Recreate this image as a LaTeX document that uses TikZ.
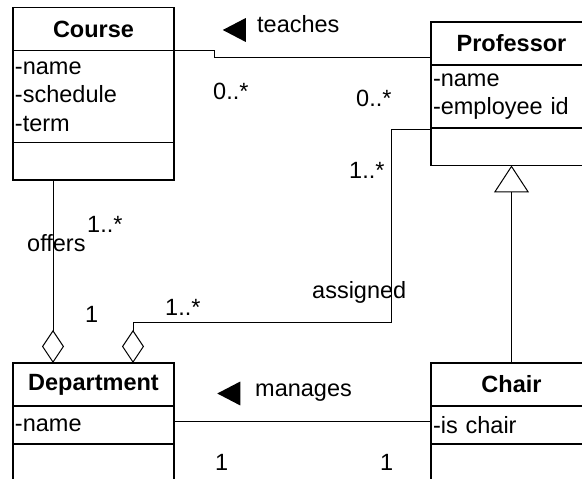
\documentclass[tikz,border=0pt]{standalone}
\usepackage{fontspec}
\setmainfont{Liberation Sans}
\usetikzlibrary{shapes.geometric,arrows.meta,positioning}
\newcommand{\umlfont}{\fontsize{23.5}{28.5}\selectfont}
\tikzstyle{classhead} = [rectangle, minimum width=161pt, minimum height=43pt, inner sep=0pt, outer sep=0pt, text centered, draw=black, line width=1.6pt, font=\umlfont\bfseries]
\tikzstyle{classpart} = [rectangle, text width=157pt, inner sep=2pt, outer sep=0pt, align=left, draw=black, line width=1.6pt, font=\umlfont]
\tikzstyle{mult} = [inner sep=0pt, anchor=base west, font=\umlfont]
\tikzstyle{dirtri} = [isosceles triangle, isosceles triangle apex angle=55, shape border rotate=180, minimum height=23pt, inner sep=0pt, fill=black]
\tikzstyle{assoc} = [line width=1pt]
\tikzstyle{aggr} = [line width=1pt, -{Diamond[open, length=33pt, width=22pt]}]
\tikzstyle{inherit} = [line width=1pt, -{Triangle[open, length=27pt, width=35pt]}]

\begin{document}
\begin{tikzpicture}[x=1pt, y=1pt]
\useasboundingbox (0,0) rectangle (582,479);
\clip (0,0) rectangle (582,479);

\node (coursehead)[classhead, anchor=north west] at (13,471.5) {Course};
\node (courseattr)[classpart, minimum height=92pt, below=0pt of coursehead] {-name\\-schedule\\-term};
\node (courseops)[classpart, minimum height=37.5pt, below=0pt of courseattr] {};

\node (profhead)[classhead, anchor=north west] at (431,457) {Professor};
\node (profattr)[classpart, minimum height=63pt, below=0pt of profhead] {-name\\-employee id};
\node (profops)[classpart, minimum height=37.5pt, below=0pt of profattr] {};

\node (depthead)[classhead, anchor=north west] at (13,116) {Department};
\node (deptattr)[classpart, minimum height=38pt, below=0pt of depthead] {-name};
\node (deptops)[classpart, minimum height=37.5pt, below=0pt of deptattr] {};

\node (chairhead)[classhead, anchor=north west] at (431,116) {Chair};
\node (chairattr)[classpart, minimum height=38pt, below=0pt of chairhead] {-is chair};
\node (chairops)[classpart, minimum height=37.5pt, below=0pt of chairattr] {};

\draw [assoc](coursehead.south east) -- ++(40,0) |- ([yshift=7pt]profhead.south west);
\node (teachdir)[dirtri] at (238.5,449) {};
\node (teachlbl)[mult] at (257,446) {teaches};
\node (teachcourse)[mult] at (213,379) {0..*};
\node (teachprof)[mult] at (356,372.5) {0..*};

\draw [aggr]([xshift=-40.5pt]courseops.south) -- ([xshift=-40.5pt]depthead.north);
\node (offerslbl)[mult] at (27,227) {offers};
\node (offerscourse)[mult] at (87,246) {1..*};
\node (offersdept)[mult] at (85,156) {1};

\draw [aggr]([yshift=-2pt]profops.north west) -- ++(-40,0) -- ++(0,-193) -| ([xshift=39.5pt]depthead.north);
\node (assignprof)[mult] at (349,300.5) {1..*};
\node (assignlbl)[mult] at (312,180) {assigned};
\node (assigndept)[mult] at (165,163) {1..*};

\draw [inherit](chairhead.north) -- (profops.south);

\draw [assoc]([yshift=3pt]deptattr.east) -- ([yshift=3pt]chairattr.west);
\node (managedir)[dirtri] at (233,85.5) {};
\node (manageslbl)[mult] at (255,82.3) {manages};
\node (managesdept)[mult] at (215,8) {1};
\node (manageschair)[mult] at (380,8) {1};
\end{tikzpicture}
\end{document}
